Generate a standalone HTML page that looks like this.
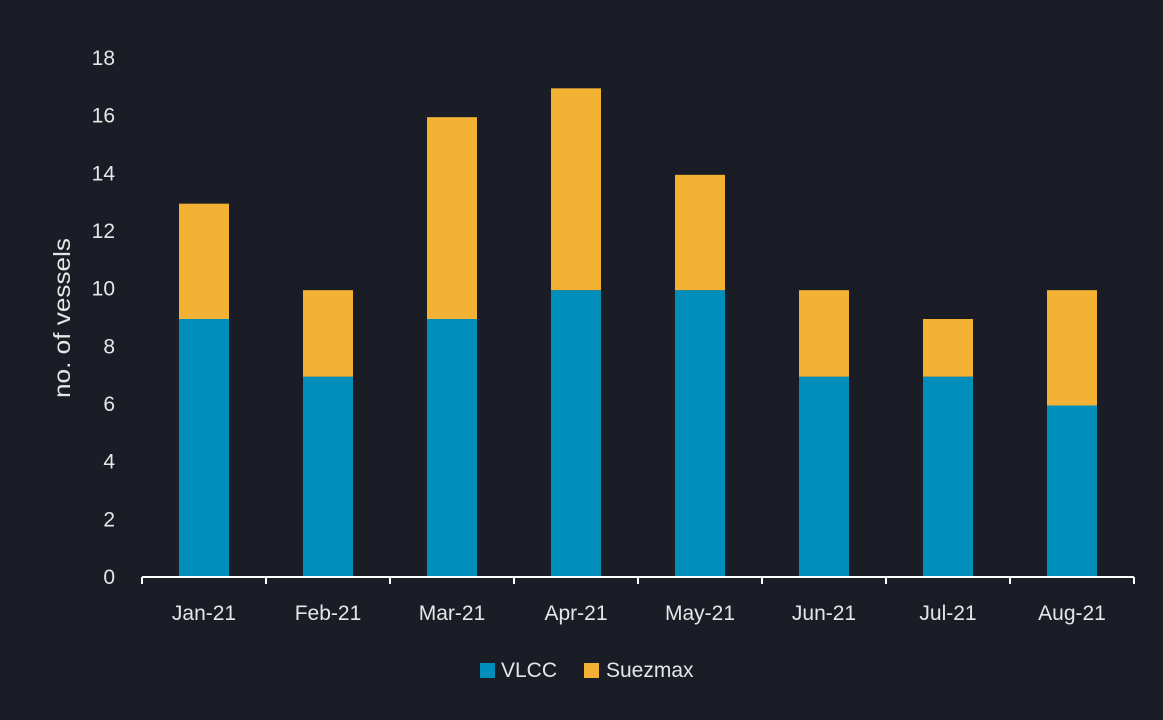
<!DOCTYPE html>
<html><head><meta charset="utf-8"><style>
html,body{margin:0;padding:0;background:#1b1d26;}
svg text{font-family:"Liberation Sans",sans-serif;fill:#e6e6e6;}
</style></head><body>
<svg id="chart" width="1163" height="715" xmlns="http://www.w3.org/2000/svg">
<rect x="0" y="0" width="1163" height="715" fill="#1b1d26"/>
<g id="yticks"></g>
<g id="bars"></g>
<g id="xaxis"></g>
<text transform="translate(70,318) rotate(-90)" text-anchor="middle" font-size="23" textLength="160" lengthAdjust="spacingAndGlyphs">no. of vessels</text>
<g>
<rect x="480" y="663" width="15" height="15" fill="#008fba"/>
<text x="501" y="677" font-size="21">VLCC</text>
<rect x="584" y="663" width="15" height="15" fill="#f3b234"/>
<text x="606" y="677" font-size="21">Suezmax</text>
</g>
</svg>
<script>
const categories=["Jan-21","Feb-21","Mar-21","Apr-21","May-21","Jun-21","Jul-21","Aug-21"];
const vlcc=[9,7,9,10,10,7,7,6];
const suezmax=[4,3,7,7,4,3,2,4];
const yTicks=[0,2,4,6,8,10,12,14,16,18];
const NS="http://www.w3.org/2000/svg";
const x0=142,x1=1134,yBase=577,yTop=58,yMax=18;
const band=(x1-x0)/categories.length,barW=50;
const y=v=>yBase-(v/yMax)*(yBase-yTop);
function mk(t,a,p){const e=document.createElementNS(NS,t);for(const k in a)e.setAttribute(k,a[k]);p.appendChild(e);return e;}
const gy=document.getElementById('yticks');
yTicks.forEach(v=>{const t=mk('text',{x:115,y:y(v)+7,'text-anchor':'end','font-size':21},gy);t.textContent=v;

});
const gb=document.getElementById('bars');
categories.forEach((c,i)=>{const cx=x0+band*(i+0.5);
const r1=mk('rect',{x:cx-barW/2,y:y(vlcc[i])+1.5,width:barW,height:y(0)-y(vlcc[i])-1.5,fill:'#008fba'},gb);


const r2=mk('rect',{x:cx-barW/2,y:y(vlcc[i]+suezmax[i])+1.5,width:barW,height:y(vlcc[i])-y(vlcc[i]+suezmax[i]),fill:'#f3b234'},gb);


});
const gx=document.getElementById('xaxis');
const ln=mk('line',{x1:x0,x2:x1,y1:yBase,y2:yBase,stroke:'#ffffff','stroke-width':2},gx);


for(let i=0;i<=categories.length;i++){const tx=x0+band*i;
const tk=mk('line',{x1:tx,x2:tx,y1:yBase,y2:yBase+7,stroke:'#ffffff','stroke-width':2},gx);

}
categories.forEach((c,i)=>{const t=mk('text',{x:x0+band*(i+0.5),y:620,'text-anchor':'middle','font-size':21},gx);t.textContent=c;

});
</script>
</body></html>
